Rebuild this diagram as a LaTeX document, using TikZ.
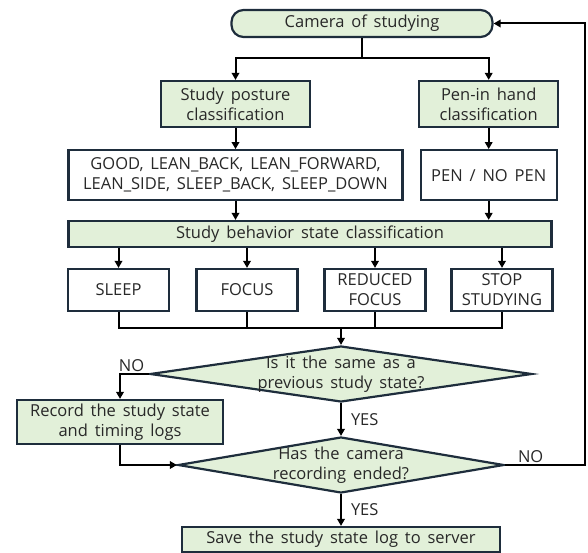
\documentclass[tikz,border=0pt]{standalone}
\usepackage{fontspec}
\setmainfont{Open Sans}[WordSpace=1.6]
\usepackage{tikz}
\usetikzlibrary{shapes.geometric,arrows.meta,positioning}
\definecolor{boxgreen}{RGB}{226,240,217}
\definecolor{boxline}{RGB}{30,45,60}
\definecolor{labeltext}{RGB}{40,40,40}

\begin{document}
\begin{tikzpicture}[
    x=1pt, y=1pt,
    font=\fontsize{16.5}{20}\selectfont, text=labeltext,
    terminal/.style={rectangle, draw=boxline, fill=boxgreen, line width=2.2pt, rounded corners=12pt, minimum width=261pt, minimum height=27pt, inner sep=0pt},
    process/.style={rectangle, draw=boxline, fill=boxgreen, line width=2.2pt, align=center, inner sep=0pt},
    result/.style={rectangle, draw=boxline, fill=white, line width=2.2pt, align=center, inner sep=0pt},
    decision/.style={diamond, draw=boxline, fill=boxgreen, line width=2.2pt, inner sep=0pt},
    line/.style={line width=2pt},
    arrow/.style={line, -{Triangle[length=7pt,width=7.5pt]}},
    tag/.style={inner sep=1pt}
]
    \useasboundingbox (0,0) rectangle (588,-553);

    \node[terminal] (cam) at (362,-23.5) {Camera of studying};

    \node[process, minimum width=149pt, minimum height=46pt] (posture) at (235.5,-104) {Study posture\\classification};
    \node[process, minimum width=139pt, minimum height=46pt, right=107pt of posture] (pen) {Pen-in hand\\classification};
    \node[result, minimum width=334pt, minimum height=50pt, below=21pt of posture] (postures) {GOOD, LEAN\_BACK, LEAN\_FORWARD,\\LEAN\_SIDE, SLEEP\_BACK, SLEEP\_DOWN};
    \node[result, minimum width=136pt, minimum height=50pt, below=21pt of pen] (penstate) {PEN / NO PEN};

    \node[process, minimum width=483pt, minimum height=26pt] (behavior) at (310,-234) {Study behavior state classification};

    \node[result, minimum width=101pt, minimum height=42pt] (sleep) at (118.5,-290) {SLEEP};
    \node[result, minimum width=101pt, minimum height=42pt] (focus) at (247,-290) {FOCUS};
    \node[result, minimum width=101pt, minimum height=42pt] (reduced) at (375,-290) {REDUCED\\FOCUS};
    \node[result, minimum width=101pt, minimum height=42pt] (stop) at (502,-290) {STOP\\STUDYING};

    \coordinate (split) at (362,-58);
    \coordinate (merge) at (341,-328);

    \node[decision, minimum width=382pt, minimum height=56pt, label={[align=center]center:Is it the same as a\\previous study state?}] (same) at (341,-374) {};
    \node[process, minimum width=206pt, minimum height=44pt] (record) at (120,-422) {Record the study state\\and timing logs};
    \node[decision, minimum width=326pt, minimum height=56pt, label={[align=center]center:Has the camera\\recording ended?}] (ended) at (341,-465) {};
    \node[process, minimum width=318pt, minimum height=25pt] (save) at (341,-539.5) {Save the study state log to server};

    \coordinate (loop) at (585,-23.5);

    % camera to the two classifiers
    \draw[line] (cam) -- (split);
    \draw[arrow] (split) -| (posture);
    \draw[arrow] (split) -| (pen);
    \draw[arrow] (posture) -- (postures);
    \draw[arrow] (pen) -- (penstate);
    \draw[arrow] (postures.south) -- (postures.south |- behavior.north);
    \draw[arrow] (penstate.south) -- (penstate.south |- behavior.north);

    % behavior states
    \draw[arrow] (behavior.south -| sleep) -- (sleep);
    \draw[arrow] (behavior.south -| focus) -- (focus);
    \draw[arrow] (behavior.south -| reduced) -- (reduced);
    \draw[arrow] (behavior.south -| stop) -- (stop);
    \draw[line] (sleep) |- (merge);
    \draw[line] (focus) |- (merge);
    \draw[line] (reduced) |- (merge);
    \draw[line] (stop) |- (merge);
    \draw[arrow] (merge) -- (same);

    % decisions
    \draw[arrow] (same.west) -| node[tag, pos=0.3, above] {NO} (record);
    \draw[arrow] (same) -- node[tag, right=8pt] {YES} (ended);
    \draw[arrow] (record) |- (ended.west);
    \draw[arrow] (ended.east) -| node[tag, pos=0.16, above] {NO} (loop) -- (cam.east);
    \draw[arrow] (ended) -- node[tag, right=8pt] {YES} (save);
\end{tikzpicture}
\end{document}
